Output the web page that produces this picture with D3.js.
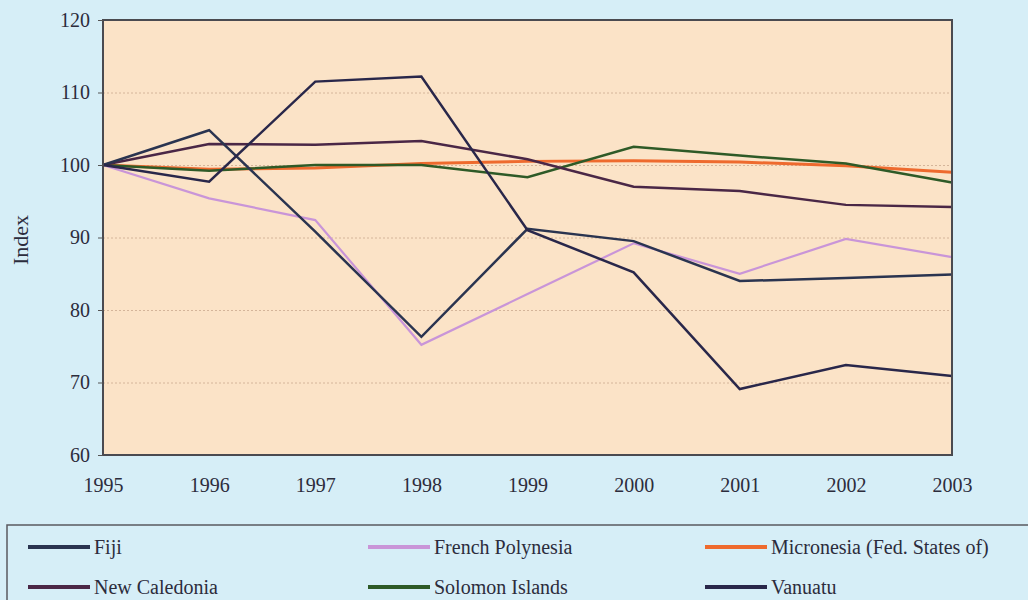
<!DOCTYPE html>
<html lang="en">
    <head>
        <meta charset="utf-8">
        <title>Index, Pacific island countries, 1995-2003</title>
        <script src="https://d3js.org/d3.v7.min.js" charset="utf-8"></script>
        <style>
        body {
            margin: 0;
            background: #d6eef7;
        }
        svg {
            display: block;
            font-family: "Liberation Serif", "Times New Roman", serif;
        }
        .axis path,
        .axis line {
            fill: none;
            stroke: #555;
        }
        .axis text {
            font-family: "Liberation Serif", "Times New Roman", serif;
            font-size: 20px;
            fill: #2c2c3c;
        }
        .grid line {
            stroke: #d4b59a;
            stroke-dasharray: 2,2;
        }
        .grid path {
            display: none;
        }
        .line {
            fill: none;
            stroke-linejoin: miter;
        }
        .legend text {
            font-size: 20px;
            fill: #2c2c3c;
        }
        </style>
    </head>
    <body>
        <div id="vis_container"></div>
        <script type="text/javascript">
            // data (index, 1995 = 100)
            var years = [1995, 1996, 1997, 1998, 1999, 2000, 2001, 2002, 2003];
            var fiji = [100, 104.8, 90.8, 76.3, 91.2, 89.5, 84.0, 84.4, 84.9];
            var frenchPolynesia = [100, 95.4, 92.4, 75.2, 82.2, 89.2, 85.0, 89.8, 87.3];
            var micronesia = [100, 99.4, 99.6, 100.2, 100.5, 100.6, 100.4, 99.9, 99.0];
            var newCaledonia = [100, 102.9, 102.8, 103.3, 100.8, 97.0, 96.4, 94.5, 94.2];
            var solomonIslands = [100, 99.2, 100.0, 100.0, 98.3, 102.5, 101.3, 100.2, 97.6];
            var vanuatu = [100, 97.7, 111.5, 112.2, 91.0, 85.2, 69.1, 72.4, 70.9];
            var yTicks = [60, 70, 80, 90, 100, 110, 120];
            var gridTicks = [70, 80, 90, 100, 110];

            var series = [
                {name: "Micronesia (Fed. States of)", values: micronesia, color: "#ee6a2e", width: 3},
                {name: "Solomon Islands", values: solomonIslands, color: "#2e5a27", width: 2.5},
                {name: "French Polynesia", values: frenchPolynesia, color: "#c995d8", width: 2.2},
                {name: "New Caledonia", values: newCaledonia, color: "#4a2746", width: 2.5},
                {name: "Fiji", values: fiji, color: "#2a3450", width: 2.5},
                {name: "Vanuatu", values: vanuatu, color: "#29274a", width: 2.5}
            ];
            // legend layout order
            var legendOrder = ["Fiji", "French Polynesia", "Micronesia (Fed. States of)",
                               "New Caledonia", "Solomon Islands", "Vanuatu"];

            var margin = {top: 20, right: 76, bottom: 145, left: 103},
                width = 1028 - margin.left - margin.right,
                height = 600 - margin.top - margin.bottom;

            var svg = d3.select("#vis_container")
                .append("svg")
                .attr("width", 1028)
                .attr("height", 600);

            var canvas = svg.append("g")
                .attr("transform", "translate(" + margin.left + "," + margin.top + ")");

            var xScale = d3.scalePoint()
                .domain(years)
                .range([0, width]);
            var yScale = d3.scaleLinear()
                .domain([60, 120])
                .range([height, 0]);

            // plot background
            canvas.append("rect")
                .attr("width", width)
                .attr("height", height)
                .attr("fill", "#fbe3c7");

            // dotted gridlines
            canvas.append("g")
                .attr("class", "grid")
                .call(d3.axisLeft(yScale).tickValues(gridTicks).tickSize(-width).tickFormat(""));

            var line = d3.line()
                .x(function(d, i) { return xScale(years[i]); })
                .y(function(d) { return yScale(d); });

            canvas.selectAll(".line")
                .data(series)
                .enter().append("path")
                .attr("class", "line")
                .attr("d", function(d) { return line(d.values); })
                .attr("stroke", function(d) { return d.color; })
                .attr("stroke-width", function(d) { return d.width; });

            // frame
            canvas.append("rect")
                .attr("width", width)
                .attr("height", height)
                .attr("fill", "none")
                .attr("stroke", "#4a4a50")
                .attr("stroke-width", 2);

            var yAxis = d3.axisLeft(yScale).tickValues(yTicks).tickSize(5).tickPadding(8);
            canvas.append("g")
                .attr("class", "y axis")
                .call(yAxis)
                .select(".domain").remove();

            var xAxis = d3.axisBottom(xScale).tickSize(0).tickPadding(23);
            canvas.append("g")
                .attr("class", "x axis")
                .attr("transform", "translate(0," + height + ")")
                .call(xAxis)
                .select(".domain").remove();

            svg.append("text")
                .attr("transform", "translate(28,240) rotate(-90)")
                .attr("text-anchor", "middle")
                .style("font-size", "22px")
                .style("fill", "#2c2c3c")
                .text("Index");

            // legend box
            var legend = svg.append("g").attr("class", "legend");
            legend.append("rect")
                .attr("x", 7)
                .attr("y", 525)
                .attr("width", 1040)
                .attr("height", 100)
                .attr("fill", "none")
                .attr("stroke", "#5a5a60")
                .attr("stroke-width", 1.5);

            var colX = [28, 368, 705],
                rowY = [547, 587];
            var items = legend.selectAll(".item")
                .data(legendOrder.map(function(n) {
                    return series.filter(function(s) { return s.name === n; })[0];
                }))
                .enter().append("g")
                .attr("class", "item")
                .attr("transform", function(d, i) {
                    return "translate(" + colX[i % 3] + "," + rowY[Math.floor(i / 3)] + ")";
                });
            items.append("line")
                .attr("x1", 0)
                .attr("x2", 62)
                .attr("stroke", function(d) { return d.color; })
                .attr("stroke-width", 4);
            items.append("text")
                .attr("x", 66)
                .attr("dy", "0.35em")
                .text(function(d) { return d.name; });
        </script>
    </body>
</html>
